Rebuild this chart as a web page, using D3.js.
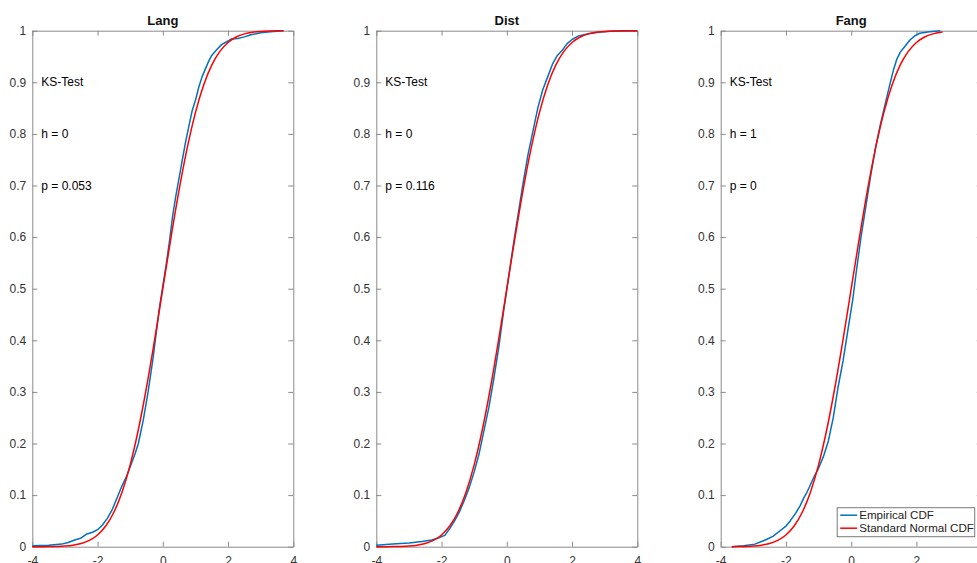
<!DOCTYPE html>
<html>
<head>
<meta charset="utf-8">
<script src="https://cdn.jsdelivr.net/npm/d3@7"></script>
<style>
  html, body { margin: 0; padding: 0; background: #fff; overflow: hidden; }
  svg { display: block; font-family: "Liberation Sans", Arial, Helvetica, sans-serif; }
</style>
</head>
<body>
<svg id="chart" width="977" height="563"></svg>
<script>
// Panel titles and Kolmogorov–Smirnov results
const titles = ["Lang", "Dist", "Fang"];
const ksH = [0, 0, 1];
const ksP = ["0.053", "0.116", "0"];

// Empirical CDF samples per panel: [x, F(x)]
const langEcdf = [[-4.0,0.002],[-3.5,0.003],[-3.1,0.005],[-2.9,0.008],[-2.7,0.013],[-2.5,0.017],[-2.35,0.024],[-2.15,0.028],[-2.0,0.033],[-1.85,0.042],[-1.7,0.055],[-1.55,0.072],[-1.4,0.095],[-1.25,0.118],[-1.1,0.138],[-0.95,0.163],[-0.85,0.18],[-0.75,0.2],[-0.6,0.245],[-0.45,0.3],[-0.3,0.365],[-0.2,0.415],[-0.1,0.465],[0.0,0.505],[0.1,0.545],[0.2,0.59],[0.3,0.64],[0.4,0.68],[0.5,0.715],[0.6,0.75],[0.7,0.785],[0.8,0.815],[0.9,0.845],[1.0,0.865],[1.1,0.89],[1.2,0.91],[1.3,0.925],[1.4,0.94],[1.5,0.952],[1.65,0.963],[1.8,0.973],[2.0,0.98],[2.1,0.984],[2.3,0.985],[2.5,0.988],[2.7,0.992],[3.0,0.996],[3.3,0.998],[3.7,1.0]];
const distEcdf = [[-4.0,0.003],[-3.5,0.005],[-3.0,0.007],[-2.6,0.01],[-2.3,0.013],[-2.1,0.017],[-1.9,0.022],[-1.75,0.035],[-1.6,0.05],[-1.45,0.068],[-1.3,0.09],[-1.15,0.115],[-1.0,0.145],[-0.85,0.18],[-0.7,0.225],[-0.55,0.27],[-0.4,0.325],[-0.25,0.385],[-0.1,0.455],[0.05,0.52],[0.2,0.585],[0.35,0.645],[0.5,0.705],[0.65,0.76],[0.8,0.805],[0.95,0.85],[1.1,0.885],[1.25,0.91],[1.4,0.935],[1.55,0.952],[1.7,0.962],[1.85,0.975],[2.0,0.983],[2.2,0.99],[2.5,0.994],[2.8,0.997],[3.2,0.999],[4.0,1.0]];
const fangEcdf = [[-3.66,0.0],[-3.3,0.002],[-2.95,0.005],[-2.75,0.01],[-2.6,0.014],[-2.4,0.02],[-2.2,0.03],[-2.0,0.04],[-1.87,0.05],[-1.7,0.065],[-1.56,0.08],[-1.45,0.095],[-1.36,0.105],[-1.25,0.12],[-1.12,0.138],[-1.0,0.152],[-0.85,0.175],[-0.7,0.205],[-0.55,0.25],[-0.4,0.31],[-0.25,0.36],[-0.1,0.42],[0.05,0.48],[0.15,0.53],[0.3,0.6],[0.45,0.66],[0.6,0.72],[0.75,0.775],[0.9,0.82],[1.05,0.86],[1.2,0.9],[1.3,0.925],[1.4,0.945],[1.5,0.958],[1.65,0.97],[1.8,0.982],[1.95,0.99],[2.1,0.995],[2.4,0.998],[2.73,1.0]];
const ecdfs = [langEcdf, distEcdf, fangEcdf];

// x-extent over which the reference normal CDF is drawn in each panel
const normRanges = [[-4, 3.7], [-4, 4], [-3.66, 2.8]];

// Standard normal CDF table: [x, Phi(x)]
const normTable = [[-4,0.00003],[-3.75,0.00009],[-3.66,0.00013],[-3.5,0.00023],[-3.25,0.00058],[-3,0.00135],[-2.75,0.00298],[-2.5,0.00621],[-2.25,0.01222],[-2,0.02275],[-1.75,0.04006],[-1.5,0.06681],[-1.25,0.10565],[-1,0.15866],[-0.75,0.22663],[-0.5,0.30854],[-0.25,0.40129],[0,0.5],[0.25,0.59871],[0.5,0.69146],[0.75,0.77337],[1,0.84134],[1.25,0.89435],[1.5,0.93319],[1.75,0.95994],[2,0.97725],[2.25,0.98778],[2.5,0.99379],[2.75,0.99702],[2.8,0.99744],[3,0.99865],[3.25,0.99942],[3.5,0.99977],[3.7,0.99989],[3.75,0.99991],[4,0.99997]];

// Axis ticks
const xTicks = [-4, -2, 0, 2, 4];
const yTicks = [0, 0.1, 0.2, 0.3, 0.4, 0.5, 0.6, 0.7, 0.8, 0.9, 1];
const legendLabels = ["Empirical CDF", "Standard Normal CDF"];

const blue = "#0072BD", red = "#FF0000";
const axisColor = "#8a8a8a", labelColor = "#333333";

const svg = d3.select("#chart");
const panelLeft = [32.3, 376.3, 720.7];
const pw = 261, panelTop = 30.7, ph = 516;
const tickLen = 5;

titles.forEach((title, i) => {
  const g = svg.append("g").attr("transform", `translate(${panelLeft[i]},${panelTop})`);
  const x = d3.scaleLinear().domain([-4, 4]).range([0, pw]);
  const y = d3.scaleLinear().domain([0, 1]).range([ph, 0]);

  const fmt = d => (d === 0 || d === 1) ? String(d) : d3.format(".1f")(d);

  // Bottom / left axes with labels, ticks pointing inward (plain hyphen minus)
  const xAxis = g.append("g").attr("transform", `translate(0,${ph})`)
    .call(d3.axisBottom(x).tickValues(xTicks).tickSizeInner(-tickLen).tickSizeOuter(0).tickPadding(10).tickFormat(d => String(d)));
  const yAxis = g.append("g")
    .call(d3.axisLeft(y).tickValues(yTicks).tickSizeInner(-tickLen).tickSizeOuter(0).tickPadding(6).tickFormat(fmt));
  // Top / right axes: ticks only (box on)
  const xTop = g.append("g")
    .call(d3.axisTop(x).tickValues(xTicks).tickSizeInner(-tickLen).tickSizeOuter(0).tickFormat(""));
  const yRight = g.append("g").attr("transform", `translate(${pw},0)`)
    .call(d3.axisRight(y).tickValues(yTicks).tickSizeInner(-tickLen).tickSizeOuter(0).tickFormat(""));

  [xAxis, yAxis, xTop, yRight].forEach(a => {
    a.selectAll("path.domain").attr("stroke", axisColor).attr("stroke-width", 1);
    a.selectAll(".tick line").attr("stroke", axisColor).attr("stroke-width", 1);
    a.selectAll(".tick text").attr("fill", labelColor).style("font-size", "12px")
      .style("font-family", '"Liberation Sans", Arial, sans-serif');
  });
  xAxis.selectAll(".tick text").attr("dy", "0.71em");

  // Title
  g.append("text").attr("x", pw / 2).attr("y", -6).attr("text-anchor", "middle")
    .style("font-size", "13px").style("font-weight", "bold").attr("fill", "#111")
    .text(title);

  // KS annotations
  const ann = ["KS-Test", `h = ${ksH[i]}`, `p = ${ksP[i]}`];
  const annY = [0.9, 0.8, 0.7];
  ann.forEach((t, k) => {
    g.append("text").attr("x", 9).attr("y", y(annY[k])).attr("dy", "0.35em")
      .style("font-size", "12px").attr("fill", "#000").text(t);
  });

  const line = d3.line().x(d => x(d[0])).y(d => y(d[1]));
  const [nmin, nmax] = normRanges[i];
  const normPts = normTable.filter(d => d[0] >= nmin - 1e-9 && d[0] <= nmax + 1e-9);

  g.append("path").datum(ecdfs[i]).attr("d", line)
    .attr("fill", "none").attr("stroke", blue).attr("stroke-width", 1.5).attr("stroke-linejoin", "round");
  g.append("path").datum(normPts).attr("d", line.curve(d3.curveMonotoneX))
    .attr("fill", "none").attr("stroke", red).attr("stroke-width", 1.5);

  // Legend in the last panel (south-east)
  if (i === titles.length - 1) {
    const lw = 137.5, lh = 29, lx = pw - lw - 7, ly = ph - lh - 10;
    const lg = g.append("g").attr("transform", `translate(${lx},${ly})`);
    lg.append("rect").attr("width", lw).attr("height", lh)
      .attr("fill", "#fff").attr("stroke", "#7a7a7a").attr("stroke-width", 1);
    [blue, red].forEach((c, k) => {
      const cy = 7.5 + k * 13;
      lg.append("line").attr("x1", 3).attr("x2", 20).attr("y1", cy).attr("y2", cy)
        .attr("stroke", c).attr("stroke-width", 1.5);
      lg.append("text").attr("x", 22).attr("y", cy).attr("dy", "0.35em")
        .style("font-size", "11.6px").attr("fill", "#222").text(legendLabels[k]);
    });
  }
});
</script>
</body>
</html>
